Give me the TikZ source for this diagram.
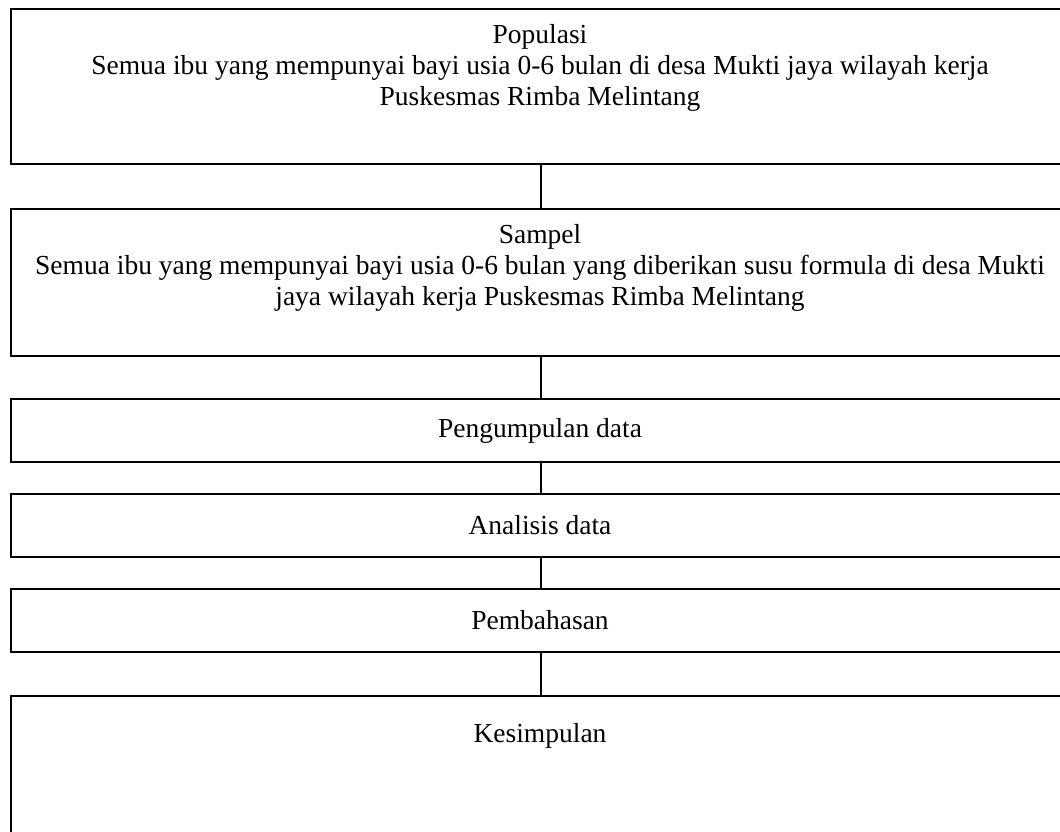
\documentclass[tikz,border=0pt]{standalone}
\usepackage{fontspec}
\setmainfont{Liberation Serif}
\begin{document}
\begin{tikzpicture}[x=1pt,y=-1pt,
  box/.style={draw=black, line width=1.5pt, rectangle, inner sep=0pt, minimum width=1060pt, anchor=north west},
  lbl/.style={font=\fontsize{27.5}{31}\selectfont, align=center, inner sep=0pt},
  link/.style={draw=black, line width=1.5pt}]
\clip (0,0) rectangle (1060,831);
\fill[white] (0,0) rectangle (1060,831);
\node[box, minimum height=155pt] (b1) at (10,8) {};
\node[box, minimum height=147pt] (b2) at (10,208) {};
\node[box, minimum height=63pt] (b3) at (10,398) {};
\node[box, minimum height=63pt] (b4) at (10,493) {};
\node[box, minimum height=63pt] (b5) at (10,588) {};
\node[box, minimum height=160pt] (b6) at (10,695) {};
\node[lbl] (t1) at (540,68) {Populasi\\Semua ibu yang mempunyai bayi usia 0-6 bulan di desa Mukti jaya wilayah kerja\\Puskesmas Rimba Melintang};
\node[lbl] (t2) at (540,268) {Sampel\\Semua ibu yang mempunyai bayi usia 0-6 bulan yang diberikan susu formula di desa Mukti\\jaya wilayah kerja Puskesmas Rimba Melintang};
\node[lbl] (t3) at (540,431) {Pengumpulan data};
\node[lbl] (t4) at (540,525) {Analisis data};
\node[lbl] (t5) at (540,620) {Pembahasan};
\node[lbl] (t6) at (540,736) {Kesimpulan};
\draw[link] (b1.south) -- (b2.north);
\draw[link] (b2.south) -- (b3.north);
\draw[link] (b3.south) -- (b4.north);
\draw[link] (b4.south) -- (b5.north);
\draw[link] (b5.south) -- (b6.north);
\end{tikzpicture}
\end{document}
